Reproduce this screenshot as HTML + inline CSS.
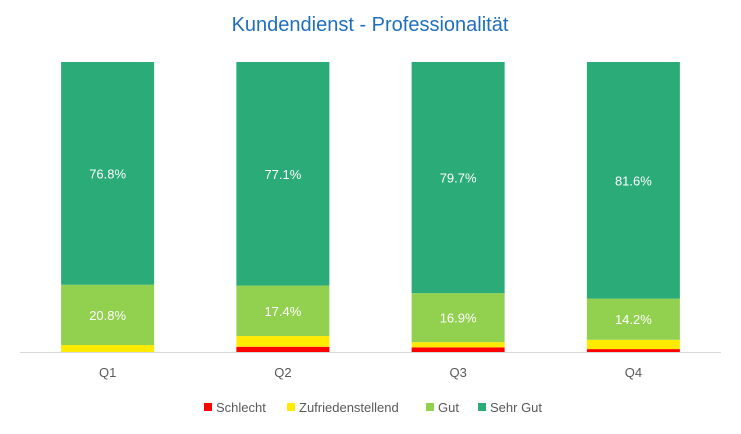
<!DOCTYPE html>
<html><head><meta charset="utf-8"><style>
body{margin:0;background:#fff;font-family:"Liberation Sans",sans-serif;}
svg text{font-family:"Liberation Sans",sans-serif;}
</style></head><body>
<svg width="741" height="429" xmlns="http://www.w3.org/2000/svg">
<text x="370" y="31" text-anchor="middle" font-size="20" fill="#1f6fbf">Kundendienst - Professionalität</text>
<g id="bars"></g>
<line x1="20" x2="721" y1="352.5" y2="352.5" stroke="#d9d9d9"/>
<g id="xlabels"></g>
<g id="legend"></g>
</svg>
<script>
const categories=["Q1","Q2","Q3","Q4"];
const schlecht=[0,1.8,1.6,1.0];
const zufrieden=[2.4,3.7,1.8,3.2];
const gut=[20.8,17.4,16.9,14.2];
const sehrGut=[76.8,77.1,79.7,81.6];
const seriesNames=["Schlecht","Zufriedenstellend","Gut","Sehr Gut"];
const colors=["#ff0000","#ffea00","#92d050","#2aab78"];
const series=[schlecht,zufrieden,gut,sehrGut];
const NS="http://www.w3.org/2000/svg";
const plotTop=62,plotBase=352,plotLeft=20,plotRight=721,barW=93;
const yScale=v=>plotBase-(v/100)*(plotBase-plotTop);
const band=(plotRight-plotLeft)/categories.length;
const xc=i=>plotLeft+band*(i+0.5);
const bars=document.getElementById('bars');
categories.forEach((c,i)=>{
  let cum=0;
  series.forEach((s,k)=>{
    const v=s[i];
    const r=document.createElementNS(NS,'rect');
    r.setAttribute('x',xc(i)-barW/2);
    r.setAttribute('y',yScale(cum+v));
    r.setAttribute('width',barW);
    r.setAttribute('height',yScale(cum)-yScale(cum+v));
    r.setAttribute('fill',colors[k]);
    
    
    bars.appendChild(r);
    if(k>=2){
      const t=document.createElementNS(NS,'text');
      t.setAttribute('x',xc(i));
      t.setAttribute('y',(yScale(cum)+yScale(cum+v))/2+5);
      t.setAttribute('text-anchor','middle');
      t.setAttribute('font-size','13');
      t.setAttribute('fill','#fff');
      
      
      t.textContent=v.toFixed(1)+'%';
      bars.appendChild(t);
    }
    cum+=v;
  });
  const t=document.createElementNS(NS,'text');
  t.setAttribute('x',xc(i));t.setAttribute('y',377);
  t.setAttribute('text-anchor','middle');t.setAttribute('font-size','13');t.setAttribute('fill','#595959');
  
  
  t.textContent=c;
  document.getElementById('xlabels').appendChild(t);
});
const lg=document.getElementById('legend');
const lx=[204,287,426,478];
seriesNames.forEach((n,k)=>{
  const g=document.createElementNS(NS,'g');
  
  
  const r=document.createElementNS(NS,'rect');
  r.setAttribute('x',lx[k]);r.setAttribute('y',403);r.setAttribute('width',8);r.setAttribute('height',8);r.setAttribute('fill',colors[k]);
  const t=document.createElementNS(NS,'text');
  t.setAttribute('x',lx[k]+12);t.setAttribute('y',412);t.setAttribute('font-size','13');t.setAttribute('fill','#595959');
  t.textContent=n;
  g.appendChild(r);g.appendChild(t);lg.appendChild(g);
});
</script>
</body></html>
